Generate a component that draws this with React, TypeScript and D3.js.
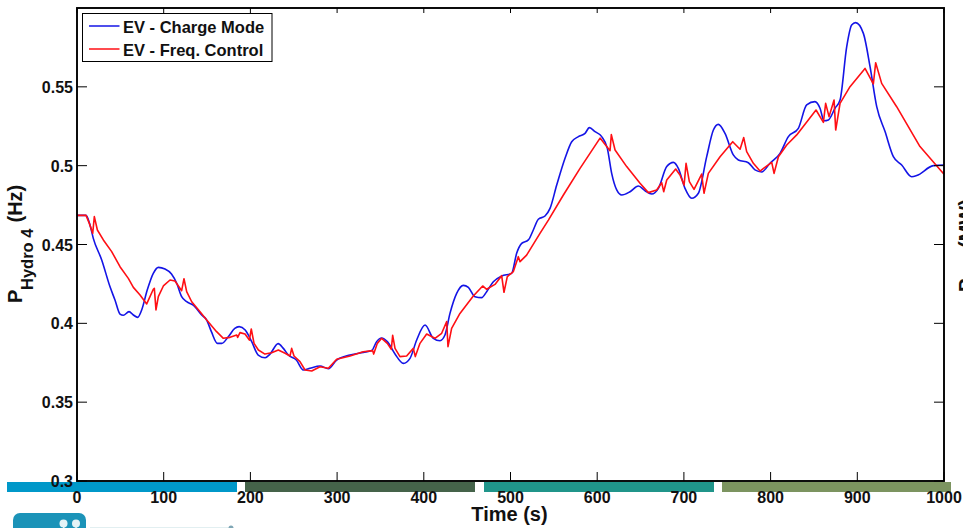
import React from "react";
import * as d3 from "d3";

const blueTime = [0,10.4,15,18.8,28.5,38,43.8,49.6,53.4,60,65,70,74.6,81,88,93.8,101.5,109,115,120.7,126.5,134,143.8,149.6,155,162,167,174.5,182,187,194,201.5,209,217,222.6,232,238,243.8,253,261,268.7,280.3,289.9,299.5,314.9,330.2,339.9,345.6,351.4,357.9,366.8,376.4,384.1,391.8,401.4,411,418.7,424.4,430.2,437.9,445.6,451.4,459,466.7,472.5,480.2,489.8,501.3,507.1,512.9,520.6,526.3,532.1,539.8,545.6,553.3,562.9,570.6,578.3,586,591,597.5,605.2,611.7,616.7,622.5,628.3,637.9,647.5,655.2,662.9,670.6,680.2,687.9,693.6,701.3,709,716.7,726.3,734,739.7,747.4,757,762.8,774.3,782,789.7,799.3,810.9,820.5,832,841.6,851.2,857,861.6,866.6,874.3,880.1,887.8,893.5,898.1,907,914.7,922.4,932,941.6,951.2,962.7,968.5,987.7,1000];
const blueValue = [.4685,.4685,.4624,.4539,.4402,.4233,.4148,.4059,.4051,.4074,.4053,.4038,.4085,.4211,.4317,.4355,.4345,.4313,.4254,.4169,.4137,.4116,.4053,.4021,.3947,.3873,.3873,.3915,.3968,.3979,.3958,.3884,.3799,.3782,.3805,.3871,.3841,.3799,.3767,.3704,.3715,.3729,.3712,.3767,.3799,.3816,.3827,.3884,.3907,.3884,.3805,.3746,.3778,.3894,.3989,.3905,.389,.3926,.4063,.419,.4241,.4228,.4169,.4163,.4201,.4264,.43,.4317,.4444,.4507,.4529,.4592,.466,.4681,.4729,.4877,.5047,.5152,.5184,.5205,.5241,.5216,.5184,.511,.4951,.4846,.4814,.4835,.4871,.4841,.482,.4856,.4994,.5021,.4983,.4856,.4793,.4825,.5057,.5226,.5262,.5205,.5068,.5036,.5019,.4973,.496,.5015,.5078,.5184,.5237,.5385,.5406,.5364,.5285,.529,.5364,.5416,.5755,.5892,.5907,.5839,.5628,.5374,.5216,.5057,.5004,.493,.4937,.5,.5004];
const redTime = [0,10.4,14.2,18.1,20,23.5,30.4,40,49.6,59.2,65,72.7,80.4,88,89.2,91.1,93.8,99.6,107.3,113,120.7,123.4,126.5,132.3,141.9,149.6,161,168.8,176.5,184.2,185.3,188,193.8,198.8,201,204.2,209.2,216.8,224.5,232.2,240,245.7,247.6,250.3,257.2,263,270.7,280.3,289.9,299.5,314.9,330.2,341,342.2,346.4,351.4,357.9,362.5,364.1,366.8,372.5,380.2,387.9,390.2,395.6,403.3,412.9,420.6,426.4,427.9,432.1,441.7,457.1,467.9,472.5,482.1,489.8,492.5,496.3,503.3,509,511,518.6,534,543.7,561,580.2,603.3,614.8,616.3,620.6,634,649.4,659,668.6,674.4,676.7,680.2,690.5,695.5,700.2,702.5,706.3,711.7,720.5,723.2,728.2,741.7,756.3,764.8,769,772.4,780.1,787.8,801.3,804,809,818.6,830.1,852.4,860.9,863.5,867.4,873.2,875.1,880.1,891.6,908.9,918.5,921.2,928.1,945.4,972.3,1000];
const redValue = [.4685,.4685,.4634,.4571,.4677,.4592,.4529,.4455,.4359,.4285,.4228,.418,.4123,.4216,.4222,.4085,.4169,.4237,.4275,.4268,.4207,.4283,.4201,.4137,.4074,.4021,.3947,.3905,.3911,.3926,.3911,.3941,.3932,.3894,.3964,.3873,.3831,.3805,.3814,.3831,.381,.3793,.3841,.3793,.3757,.3704,.3698,.3725,.3715,.3772,.3793,.382,.3827,.3805,.3873,.3905,.3873,.3835,.3924,.3841,.3789,.3793,.3841,.3789,.3873,.3932,.3905,.3937,.4011,.3852,.3968,.4063,.4173,.4237,.4216,.4247,.4302,.4197,.4296,.4328,.4423,.4391,.4433,.4571,.4655,.4814,.4983,.5175,.5095,.5197,.5099,.4994,.4888,.4829,.4846,.4892,.4835,.4909,.4979,.4941,.4877,.5015,.4899,.485,.4947,.4825,.4951,.5057,.5152,.5104,.5178,.5089,.5015,.4966,.5021,.4951,.5057,.5131,.5195,.5353,.5275,.5395,.5311,.5416,.5226,.5395,.5501,.5617,.5518,.5653,.5522,.5374,.5121,.4945];

const xTicks = [0,100,200,300,400,500,600,700,800,900,1000];
const yTicks = [0.3,0.35,0.4,0.45,0.5,0.55];
const seriesNames = ["EV - Charge Mode","EV - Freq. Control"];
const seriesColors = ["#1414e6","#ff0f14"];
const stripColors = ["#0098c9","#45634a","#20958a","#7c9460"];
const stripEdges = [[7,237],[245,475],[484,714],[722,951]];

const FONT = "'Liberation Sans', Arial, sans-serif";

export default function App() {
  const x = d3.scaleLinear().domain([0,1000]).range([77,944]);
  const y = d3.scaleLinear().domain([0.3,0.6]).range([481,8]);
  const blue = d3.line<number>().x(i=>x(blueTime[i])).y(i=>y(blueValue[i])).curve(d3.curveMonotoneX)(d3.range(blueTime.length))!;
  const red = d3.line<number>().x(i=>x(redTime[i])).y(i=>y(redValue[i])).curve(d3.curveLinear)(d3.range(redTime.length))!;
  return (
    <svg width={963} height={528} style={{position:"fixed",left:0,top:0,background:"#fff"}} fontFamily={FONT} fontWeight="bold" fill="#111">
      <g>
        {stripEdges.map((e,i)=><rect key={i} x={e[0]} y={482} width={e[1]-e[0]} height={10} fill={stripColors[i]}/>)}
      </g>
      {/* logo fragment */}
      <rect x={13} y={513} width={73} height={24} rx={7} fill="#1b93b8"/>
      <circle cx={63.5} cy={523.5} r={4} fill="#e4f3f6"/>
      <circle cx={76} cy={523.5} r={4} fill="#e4f3f6"/>
      <rect x={63} y={525} width={1.5} height={3} fill="#e4f3f6"/>
      <rect x={75.3} y={525} width={1.5} height={3} fill="#e4f3f6"/>
      <rect x={90} y={527} width={140} height={1} fill="#e2eff1"/>
      <circle cx={231} cy={528} r={2.5} fill="#7fa6b5"/>

      <path d={blue} fill="none" stroke={seriesColors[0]} strokeWidth={1.6} strokeLinejoin="round"/>
      <path d={red} fill="none" stroke={seriesColors[1]} strokeWidth={1.6} strokeLinejoin="round"/>

      <rect x={77} y={8} width={867} height={473} fill="none" stroke="#000" strokeWidth={1.9}/>
      {xTicks.map(t=>(
        <g key={t}>
          <line x1={x(t)} x2={x(t)} y1={481} y2={472} stroke="#000" strokeWidth={1}/>
          <line x1={x(t)} x2={x(t)} y1={8} y2={13} stroke="#000" strokeWidth={1}/>
          <text x={x(t)} y={503} textAnchor="middle" fontSize={16}>{t}</text>
        </g>
      ))}
      {yTicks.map(t=>(
        <g key={t}>
          <line x1={77} x2={87} y1={y(t)} y2={y(t)} stroke="#000" strokeWidth={1}/>
          <line x1={944} x2={934} y1={y(t)} y2={y(t)} stroke="#000" strokeWidth={1}/>
          <text x={73} y={y(t)+6} textAnchor="end" fontSize={16}>{t}</text>
        </g>
      ))}

      <text x={509.5} y={521} textAnchor="middle" fontSize={20}>Time (s)</text>
      <text transform="translate(22,303) rotate(-90)" fontSize={20}>P</text>
      <text transform="translate(33,290) rotate(-90)" fontSize={16.5}>Hydro 4</text>
      <text transform="translate(22,222.5) rotate(-90)" fontSize={20}>(Hz)</text>
      <text transform="translate(973,292) rotate(-90)" fontSize={20}>P</text>
      <text transform="translate(973,248) rotate(-90)" fontSize={20}>(MW)</text>

      <rect x={82.5} y={13.5} width={189.5} height={48} fill="#fff" stroke="#000" strokeWidth={1}/>
      {seriesNames.map((n,i)=>(
        <g key={n}>
          <line x1={89} x2={119.5} y1={26+i*23} y2={26+i*23} stroke={seriesColors[i]} strokeWidth={1.5}/>
          <text x={123} y={33+i*23} fontSize={16.5}>{n}</text>
        </g>
      ))}
    </svg>
  );
}
